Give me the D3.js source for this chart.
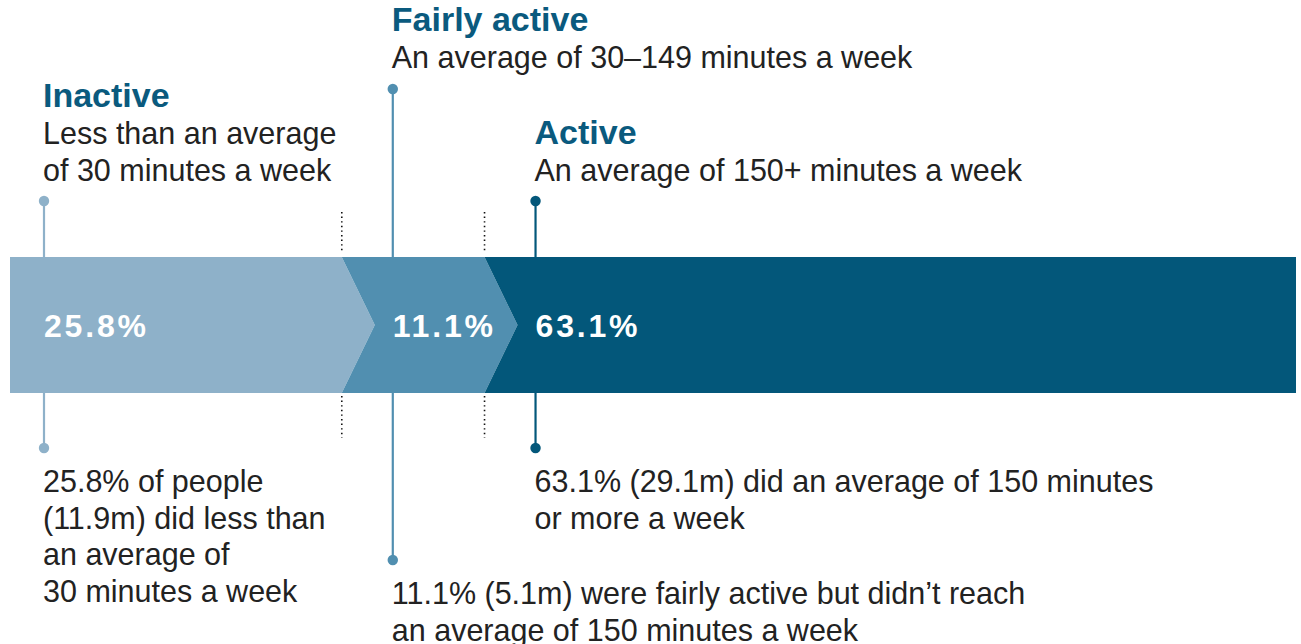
<!DOCTYPE html>
<html><head><meta charset="utf-8">
<script src="https://cdn.jsdelivr.net/npm/d3@7"></script>
<style>html,body{margin:0;padding:0;background:#fff;}svg{display:block;font-family:"Liberation Sans",Arial,Helvetica,sans-serif;}</style>
</head><body>
<svg id="chart" width="1301" height="644"></svg>
<script>
const categories = ["Inactive", "Fairly active", "Active"];
const values = [25.8, 11.1, 63.1];
const valueLabels = ["25.8%", "11.1%", "63.1%"];
const descriptions = [
  ["Less than an average", "of 30 minutes a week"],
  ["An average of 30\u2013149 minutes a week"],
  ["An average of 150+ minutes a week"]
];
const notes = [
  ["25.8% of people", "(11.9m) did less than", "an average of", "30 minutes a week"],
  ["11.1% (5.1m) were fairly active but didn\u2019t reach", "an average of 150 minutes a week"],
  ["63.1% (29.1m) did an average of 150 minutes", "or more a week"]
];
const colors = ["#8eb1c9", "#518fb0", "#03577a"];
const headColor = "#0a5a7e";

const svg = d3.select("#chart");
const x = d3.scaleLinear().domain([0, 100]).range([10, 1296]);
const barTop = 257, barBot = 393, mid = (barTop + barBot) / 2, arrow = 33;

const headY = [107, 31, 144];
const topDotY = [201, 89, 201];
const botDotY = [448, 560, 448];
const noteY = [492, 604, 492];
const lh = 36.5;

let cum = 0;
const segs = values.map((v, i) => {
  const s = {i, x0: x(cum), x1: x(cum + v)};
  cum += v;
  s.lx = i === 0 ? s.x0 + 34 : s.x0 + arrow + 18;
  return s;
});

segs.forEach(s => {
  const c = colors[s.i];
  svg.append("line").attr("x1", s.lx).attr("x2", s.lx).attr("y1", topDotY[s.i]).attr("y2", barTop + 2)
    .attr("stroke", c).attr("stroke-width", 2.2);
  svg.append("line").attr("x1", s.lx).attr("x2", s.lx).attr("y1", barBot - 2).attr("y2", botDotY[s.i])
    .attr("stroke", c).attr("stroke-width", 2.2);
  svg.append("circle").attr("cx", s.lx).attr("cy", topDotY[s.i]).attr("r", 5.2).attr("fill", c);
  svg.append("circle").attr("cx", s.lx).attr("cy", botDotY[s.i]).attr("r", 5.2).attr("fill", c);
});

segs.slice(1).forEach(s => {
  [[212, 252], [396, 438]].forEach(([a, b]) => {
    svg.append("line").attr("x1", s.x0).attr("x2", s.x0).attr("y1", a).attr("y2", b)
      .attr("stroke", "#111").attr("stroke-width", 1.6).attr("stroke-dasharray", "1.4 3.2");
  });
});

segs.forEach(s => {
  const last = s.i === segs.length - 1;
  const pts = [[s.x0, barTop], [s.x1, barTop]];
  if (!last) pts.push([s.x1 + arrow, mid]);
  pts.push([s.x1, barBot], [s.x0, barBot]);
  if (s.i > 0) pts.push([s.x0 + arrow, mid]);
  svg.append("polygon").attr("points", pts.map(p => p.join(",")).join(" ")).attr("fill", colors[s.i]);
  svg.append("text").attr("x", s.lx).attr("y", 337).attr("fill", "#fff")
    .attr("font-size", 32).attr("font-weight", "bold").attr("letter-spacing", 2.8)
    .text(valueLabels[s.i]);
});

segs.forEach(s => {
  svg.append("text").attr("x", s.lx - 1).attr("y", headY[s.i]).attr("fill", headColor)
    .attr("font-size", 34).attr("font-weight", "bold").text(categories[s.i]);
  descriptions[s.i].forEach((t, k) => {
    svg.append("text").attr("x", s.lx - 1).attr("y", headY[s.i] + 37 + k * lh).attr("fill", "#222")
      .attr("font-size", 30.5).text(t);
  });
  notes[s.i].forEach((t, k) => {
    svg.append("text").attr("x", s.lx - 1).attr("y", noteY[s.i] + k * lh).attr("fill", "#222")
      .attr("font-size", 30.5).text(t);
  });
});
</script>
</body></html>
